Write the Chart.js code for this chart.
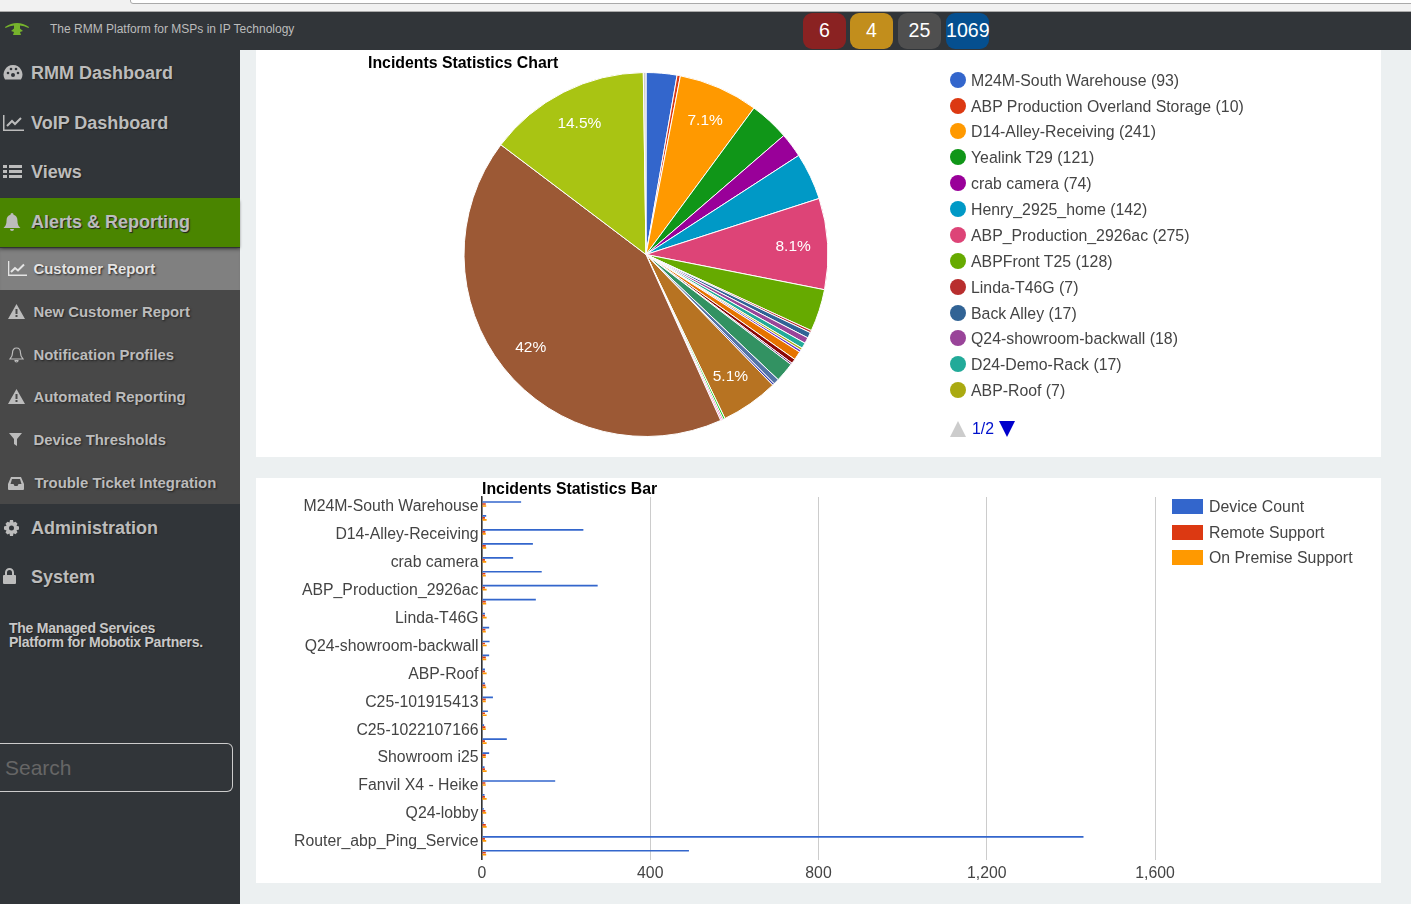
<!DOCTYPE html>
<html><head><meta charset="utf-8">
<script src="https://cdn.jsdelivr.net/npm/chart.js@4/dist/chart.umd.min.js"></script>
<style>
*{box-sizing:border-box}
html,body{margin:0;padding:0;width:1411px;height:904px;overflow:hidden;background:#ecf0f1;font-family:"Liberation Sans",Arial,sans-serif}
.abs{position:absolute}
#top{left:0;top:0;width:1411px;height:12px;background:#f1f1f1;border-bottom:1px solid #aaa}
#url{left:130px;top:-6px;width:1300px;height:10px;background:#fff;border:1px solid #aaa;border-radius:3px}
#head{left:0;top:12px;width:1411px;height:38px;background:#313539}
#tag{left:50px;top:21px;font-size:12px;color:#bcbcbc;line-height:16px;white-space:nowrap}
.badge{top:13px;height:36px;width:43px;border-radius:9px;color:#fff;font-size:19.6px;line-height:34px;text-align:center}
#side{left:0;top:50px;width:240px;height:854px;background:#313539;}
#sub{left:0;top:248px;width:240px;height:256px;background:#484848}
#act{left:0;top:248px;width:240px;height:42px;background:#808080;box-shadow:inset 0 4px 4px -3px #555}
#green{left:0;top:198px;width:240px;height:49px;background:#4a8500;box-shadow:0 2px 3px -1px #333}
.m{left:31px;font-size:18px;font-weight:bold;color:#bcbcbc;line-height:22px;white-space:nowrap;text-shadow:1px 1px 1px #222}
.s{left:33.500px;font-size:14.900px;font-weight:bold;color:#bcbcbc;line-height:18px;white-space:nowrap;text-shadow:1px 1px 2px #222}
svg.i{position:absolute;fill:#bcbcbc;stroke:none}
#blurb{left:9px;top:621px;font-size:14px;font-weight:bold;color:#c8c8c8;line-height:14px;letter-spacing:-.25px;text-shadow:1px 1px 1px #222}
#search{left:0;top:743px;width:233px;height:49px;border:1px solid #ccc;border-left:none;border-radius:0 6px 6px 0;color:#666;font-size:21px;line-height:47px;padding-left:5px}
.card{background:#fff;left:256px;width:1125px}
canvas{position:absolute;display:block}
.lg{left:971px;font-size:15.850px;color:#444;line-height:20px;white-space:nowrap}
.dot{left:950px;width:16px;height:16px;border-radius:50%}
.lb{left:1209px;font-size:15.850px;color:#444;line-height:20px;white-space:nowrap}
.sw{left:1172px;width:31px;height:15px}
</style></head><body>
<div class="abs" id="top"></div><div class="abs" id="url"></div>
<div class="abs" id="head"></div>
<svg class="i" style="left:3px;top:20px" width="28" height="17" viewBox="0 0 28 17"><path d="M2 7Q14-1 26 7L25.500 8Q21 5.500 17 5.500L17 8.500L20 11L17 12L18 15H10L11 12L8 11L11 8.500L11 5.500Q7 5.500 2.500 8Z" fill="#76b32c"/></svg>
<div class="abs" id="tag">The RMM Platform for MSPs in IP Technology</div>
<div class="abs badge" style="left:803px;background:#8a2222">6</div>
<div class="abs badge" style="left:850px;background:#c28e1c">4</div>
<div class="abs badge" style="left:898px;background:#4f4f4f">25</div>
<div class="abs badge" style="left:946px;background:#054f8f">1069</div>

<div class="abs" id="side"></div>
<div class="abs" id="sub"></div><div class="abs" id="act"></div><div class="abs" id="green"></div>
<div class="abs m" style="top:62px">RMM Dashboard</div>
<div class="abs m" style="top:112px">VoIP Dashboard</div>
<div class="abs m" style="top:161px">Views</div>
<div class="abs m" style="top:211px">Alerts &amp; Reporting</div>
<div class="abs m" style="top:517px">Administration</div>
<div class="abs m" style="top:566px">System</div>
<div class="abs s" style="top:260px;color:#e4e4e4">Customer Report</div>
<div class="abs s" style="top:303px">New Customer Report</div>
<div class="abs s" style="top:346px">Notification Profiles</div>
<div class="abs s" style="top:388px">Automated Reporting</div>
<div class="abs s" style="top:431px">Device Thresholds</div>
<div class="abs s" style="top:474px;left:34.500px">Trouble Ticket Integration</div>
<!-- icons -->
<svg class="i" style="left:3px;top:64px" width="20" height="18" viewBox="0 0 20 18"><path d="M10 1a9.500 9.500 0 0 0-8 14.500h16A9.500 9.500 0 0 0 10 1z"/><circle cx="10" cy="11" r="2" fill="#313539"/><circle cx="5" cy="9" r="1.300" fill="#313539"/><circle cx="15" cy="9" r="1.300" fill="#313539"/><circle cx="8" cy="5" r="1.300" fill="#313539"/><circle cx="13" cy="5" r="1.300" fill="#313539"/></svg>
<svg class="i" style="left:3px;top:114px" width="22" height="18" viewBox="0 0 22 18"><path d="M0 1h1.500v14.500H21V17H0z"/><path d="M4 12l5-5 3 3 6-6" fill="none" stroke="#bcbcbc" stroke-width="2"/></svg>
<svg class="i" style="left:3px;top:164px" width="20" height="15" viewBox="0 0 20 15"><path d="M0 1h4v3H0zM6 1h13v3H6zM0 6h4v3H0zM6 6h13v3H6zM0 11h4v3H0zM6 11h13v3H6z"/></svg>
<svg class="i" style="left:3px;top:213px" width="18" height="19" viewBox="0 0 18 19"><path d="M9 0c1 0 1.500.8 1.500 1.800C13 2.500 14.500 4.500 14.500 8c0 4 1.500 5.500 3 7H.5c1.500-1.500 3-3 3-7 0-3.500 1.500-5.500 4-6.200C7.500.8 8 0 9 0zM7 16h4a2 2 0 0 1-4 0z"/></svg>
<svg class="i" style="left:8px;top:261px" width="19" height="15" viewBox="0 0 19 15"><path d="M0 0h1.300v13.500H19V15H0z" fill="#e4e4e4"/><path d="M3 11l4-4 3 2.500 6-6" fill="none" stroke="#e4e4e4" stroke-width="2"/></svg>
<svg class="i" style="left:8px;top:304px" width="17" height="15" viewBox="0 0 17 15"><path d="M8.500 0L17 15H0zM7.500 5v5h2V5zM7.500 11v2h2v-2z" fill-rule="evenodd"/></svg>
<svg class="i" style="left:9px;top:347px" width="15" height="16" viewBox="0 0 15 16"><path d="M7.500 1c3 0 4 2.500 4 5 0 3 1 4.500 2.500 6H1c1.500-1.500 2.500-3 2.500-6 0-2.500 1-5 4-5zM6 13.500h3a1.500 1.500 0 0 1-3 0z" fill="none" stroke="#bcbcbc" stroke-width="1.200"/></svg>
<svg class="i" style="left:8px;top:389px" width="17" height="15" viewBox="0 0 17 15"><path d="M8.500 0L17 15H0zM7.500 5v5h2V5zM7.500 11v2h2v-2z" fill-rule="evenodd"/></svg>
<svg class="i" style="left:9px;top:433px" width="13" height="13" viewBox="0 0 13 13"><path d="M0 0h13L8 6v7L5 11V6z"/></svg>
<svg class="i" style="left:8px;top:477px" width="16" height="13" viewBox="0 0 16 13"><path d="M3 0h10l3 7v5a1 1 0 0 1-1 1H1a1 1 0 0 1-1-1V7zM4 2L2.500 7h3l1 2h3l1-2h3L12 2z" fill-rule="evenodd"/></svg>
<svg class="i" style="left:3px;top:520px" width="17" height="17" viewBox="0 0 17 17"><path d="M7 0h3l.5 2.500 2-.8 2 2-1 2 2.500.8v3l-2.500.8 1 2-2 2-2-1L10 16H7l-.5-2.500-2 1-2-2 1-2L1 9.500v-3l2.500-.8-1-2 2-2 2 .8zM8.500 5.500a2.500 2.500 0 1 0 0 5 2.500 2.500 0 0 0 0-5z" fill-rule="evenodd"/></svg>
<svg class="i" style="left:3px;top:568px" width="13" height="16" viewBox="0 0 13 16"><path d="M2 7V4.500a4.500 4.500 0 0 1 9 0V7h1a1 1 0 0 1 1 1v7a1 1 0 0 1-1 1H1a1 1 0 0 1-1-1V8a1 1 0 0 1 1-1zM4 7h5V4.500a2.500 2.500 0 0 0-5 0z" fill-rule="evenodd"/></svg>
<div class="abs" id="blurb">The Managed Services<br>Platform for Mobotix Partners.</div>
<div class="abs" id="search">Search</div>

<div class="abs card" style="top:50px;height:407px"></div>
<div class="abs card" style="top:478px;height:405px"></div>
<canvas id="pie" width="1125" height="407" style="left:256px;top:50px;width:1125px;height:407px"></canvas>
<canvas id="bar" width="1125" height="405" style="left:256px;top:478px;width:1125px;height:405px"></canvas>
<div id="pieLegend"></div>
<svg class="abs" style="left:950px;top:421px" width="16" height="16"><path d="M8 0L16 16H0z" fill="#ccc"/></svg>
<div class="abs" style="left:972px;top:419px;font-size:15.850px;line-height:20px;color:#0011cc">1/2</div>
<svg class="abs" style="left:999px;top:421px" width="16" height="16"><path d="M0 0H16L8 16z" fill="#0000cc"/></svg>
<div id="barLegend"></div>

<script>
const deviceNames = ["M24M-South Warehouse","ABP Production Overland Storage","D14-Alley-Receiving","Yealink T29","crab camera","Henry_2925_home","ABP_Production_2926ac","ABPFront T25","Linda-T46G","Back Alley","Q24-showroom-backwall","D24-Demo-Rack","ABP-Roof","","C25-101915413","","C25-1022107166","","Showroom i25","","Fanvil X4 - Heike","","Q24-lobby","","Router_abp_Ping_Service",""];
const deviceCount = [93,10,241,121,74,142,275,128,7,17,18,17,7,7,26,14,5,59,17,6,174,6,4,4,1430,492];
const remoteSupport = [9,7,8,9,7,8,7,9,7,8,7,9,7,8,9,7,8,7,9,7,8,7,8,9,7,9];
const onPremiseSupport = [10,11,9,10,10,9,11,10,11,9,11,10,11,10,9,11,9,11,9,11,9,11,10,11,10,10];
const otherSlice = 8;
const seriesNames = ["Device Count","Remote Support","On Premise Support"];
const seriesColors = ["#3366cc","#dc3912","#ff9900"];
const palette = ["#3366cc","#dc3912","#ff9900","#109618","#990099","#0099c6","#dd4477","#66aa00","#b82e2e","#316395","#994499","#22aa99","#aaaa11","#6633cc","#e67300","#8b0707","#651067","#329262","#5574a6","#3b3eac","#b77322","#16d620","#b91383","#f4359e","#9c5935","#a9c413","#cccccc"];
const legendRows = [80,106,131,157,183,209,235,261,287,313,338,364,390];
const barLegendRows = [506,532,557];
const xTicks = [0,400,800,1200,1600];

const FONT = '"Liberation Sans", Arial, sans-serif';
Chart.defaults.font.family = FONT;
Chart.defaults.animation = false;

const pl = document.getElementById('pieLegend');
legendRows.forEach((y,i)=>{
  pl.insertAdjacentHTML('beforeend',`<div class="abs dot" style="top:${y-8}px;background:${palette[i]}"></div><div class="abs lg" style="top:${y-9}px">${deviceNames[i]} (${deviceCount[i]})</div>`);
});
const bl = document.getElementById('barLegend');
barLegendRows.forEach((y,i)=>{
  bl.insertAdjacentHTML('beforeend',`<div class="abs sw" style="top:${y-7}px;background:${seriesColors[i]}"></div><div class="abs lb" style="top:${y-9}px">${seriesNames[i]}</div>`);
});

const pctLabels = {
  id:'pctLabels',
  afterDatasetsDraw(chart){
    const ds = chart.data.datasets[0].data, total = ds.reduce((a,b)=>a+b,0);
    const c = chart.ctx; c.save();
    c.font = '15.500px '+FONT; c.fillStyle='#fff'; c.textAlign='center'; c.textBaseline='middle';
    chart.getDatasetMeta(0).data.forEach((arc,i)=>{
      const p = ds[i]/total; if(p<0.05) return;
      const a = (arc.startAngle+arc.endAngle)/2, r = arc.outerRadius*0.81;
      const t = (p*100).toFixed(1).replace(/\.0$/,'');
      c.fillText(t+'%', arc.x+Math.cos(a)*r, arc.y+Math.sin(a)*r+1);
    });
    c.restore();
  }
};

new Chart(document.getElementById('pie'),{
  type:'pie',
  data:{labels:deviceNames.concat('Other'),datasets:[{data:deviceCount.concat(otherSlice),backgroundColor:palette,borderColor:'#fff',borderWidth:1}]},
  options:{responsive:false,devicePixelRatio:1,
    layout:{padding:{left:112,right:457,top:3,bottom:20}},
    plugins:{legend:{display:false},tooltip:{enabled:false},
      title:{display:true,text:'Incidents Statistics Chart',align:'start',color:'#000',font:{size:15.85,weight:'bold',family:FONT},padding:{top:1,bottom:-1}}}},
  plugins:[pctLabels]
});

new Chart(document.getElementById('bar'),{
  type:'bar',
  data:{labels:deviceNames,datasets:[deviceCount,remoteSupport,onPremiseSupport].map((d,i)=>({label:seriesNames[i],data:d,backgroundColor:seriesColors[i],categoryPercentage:0.43,barPercentage:0.85}))},
  options:{indexAxis:'y',responsive:false,devicePixelRatio:1,
    layout:{padding:{right:226,top:0,bottom:0}},
    plugins:{legend:{display:false},tooltip:{enabled:false},
      title:{display:true,text:'Incidents Statistics Bar',align:'start',fullSize:false,color:'#000',font:{size:15.85,weight:'bold',family:FONT},padding:{top:2,bottom:-2}}},
    scales:{
      x:{min:0,max:1600,afterBuildTicks(s){s.ticks=xTicks.map(v=>({value:v}));},
        afterFit(s){s.height=23.3;},
        grid:{color:'#ccc',drawTicks:false},border:{display:false},
        ticks:{color:'#444',font:{size:15.8},padding:4,maxRotation:0,
          callback:v=>v.toLocaleString('en-US')}},
      y:{afterFit(s){s.width=226;},
        grid:{display:false,drawTicks:false},border:{color:'#333',width:1.5},
        ticks:{color:'#444',font:{size:15.8},autoSkip:false,padding:3.5,labelOffset:3,
          callback(v,i){return i%2===0?this.getLabelForValue(v):'';}}}
    }}
});
</script>
</body></html>
